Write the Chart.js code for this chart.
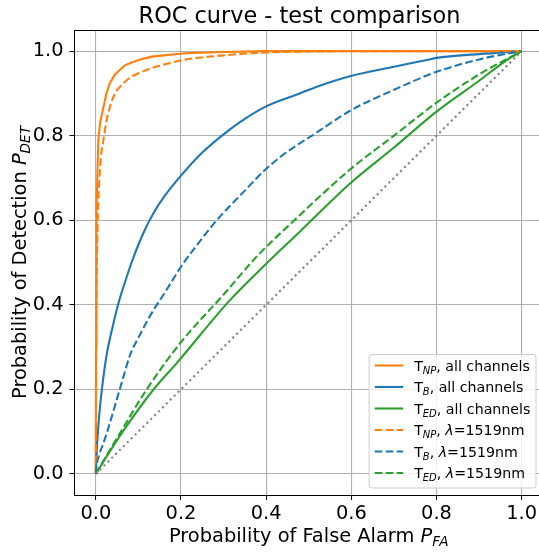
<!DOCTYPE html>
<html><head><meta charset="utf-8">
<script src="https://cdn.jsdelivr.net/npm/chart.js@4.4.1/dist/chart.umd.min.js"></script>
<style>
html,body{margin:0;padding:0;background:#fff;overflow:hidden;width:539px;height:552px}
#wrap{position:absolute;left:0;top:0;width:548px;height:552px}
</style>
</head><body><div id="wrap"><canvas id="c" width="548" height="552"></canvas></div>
<script>
const titleText = 'ROC curve - test comparison';
const xTicks = [0, 0.2, 0.4, 0.6, 0.8, 1.0];
const yTicks = [0, 0.2, 0.4, 0.6, 0.8, 1.0];

// T_NP, all channels
const npAllX = [0, 0, 0.0005, 0.001, 0.002, 0.004, 0.006, 0.01, 0.018, 0.025, 0.033, 0.045, 0.069, 0.1, 0.131, 0.209, 0.3, 0.4, 0.6, 0.8, 1.0];
const npAllY = [0, 0.05, 0.3, 0.5, 0.62, 0.72, 0.79, 0.83, 0.868, 0.9, 0.924, 0.945, 0.967, 0.979, 0.987, 0.995, 0.998, 1.0, 1.0, 1.0, 1.0];
// T_B, all channels
const bAllX = [0, 0.002, 0.005, 0.01, 0.018, 0.026, 0.04, 0.053, 0.07, 0.084, 0.1, 0.115, 0.135, 0.16, 0.198, 0.25, 0.315, 0.35, 0.401, 0.479, 0.519, 0.601, 0.7, 0.777, 0.8, 0.9, 1.0];
const bAllY = [0, 0.05, 0.1, 0.16, 0.23, 0.285, 0.35, 0.403, 0.458, 0.5, 0.542, 0.577, 0.616, 0.655, 0.703, 0.76, 0.815, 0.84, 0.87, 0.9, 0.916, 0.942, 0.963, 0.979, 0.984, 0.993, 1.0];
// T_ED, all channels
const edAllX = [0, 0.06, 0.135, 0.19, 0.315, 0.397, 0.479, 0.597, 0.7, 0.8, 0.9, 0.965, 1.0];
const edAllY = [0, 0.095, 0.199, 0.262, 0.411, 0.494, 0.573, 0.687, 0.772, 0.857, 0.93, 0.979, 1.0];
// T_NP, lambda=1519nm
const npLX = [0, 0.001, 0.002, 0.0045, 0.008, 0.012, 0.018, 0.025, 0.033, 0.045, 0.061, 0.08, 0.108, 0.14, 0.17, 0.209, 0.3, 0.4, 0.5, 0.7, 1.0];
const npLY = [0, 0.3, 0.45, 0.6, 0.69, 0.75, 0.79, 0.835, 0.868, 0.9, 0.92, 0.937, 0.951, 0.963, 0.971, 0.98, 0.99, 0.997, 0.999, 1.0, 1.0];
// T_B, lambda=1519nm
const bLX = [0, 0.002, 0.008, 0.018, 0.03, 0.049, 0.065, 0.08, 0.1, 0.127, 0.166, 0.2, 0.229, 0.284, 0.35, 0.393, 0.44, 0.479, 0.503, 0.597, 0.699, 0.8, 0.902, 0.95, 1.0];
const bLY = [0, 0.02, 0.045, 0.073, 0.11, 0.175, 0.23, 0.28, 0.322, 0.373, 0.435, 0.49, 0.53, 0.6, 0.67, 0.715, 0.755, 0.782, 0.797, 0.859, 0.908, 0.951, 0.981, 0.991, 1.0];
// T_ED, lambda=1519nm
const edLX = [0, 0.05, 0.119, 0.198, 0.299, 0.378, 0.479, 0.597, 0.7, 0.8, 0.9, 1.0];
const edLY = [0, 0.085, 0.199, 0.309, 0.423, 0.514, 0.612, 0.72, 0.8, 0.878, 0.945, 1.0];
// chance line
const diagX = [0, 1];
const diagY = [0, 1];

const legendLabels = [
  [{t:'T'},{t:'NP',it:1,sub:1},{t:', all channels'}],
  [{t:'T'},{t:'B',it:1,sub:1},{t:', all channels'}],
  [{t:'T'},{t:'ED',it:1,sub:1},{t:', all channels'}],
  [{t:'T'},{t:'NP',it:1,sub:1},{t:', '},{t:'λ',it:1},{t:'=1519nm'}],
  [{t:'T'},{t:'B',it:1,sub:1},{t:', '},{t:'λ',it:1},{t:'=1519nm'}],
  [{t:'T'},{t:'ED',it:1,sub:1},{t:', '},{t:'λ',it:1},{t:'=1519nm'}]
];
const xTitle = [{t:'Probability of False Alarm '},{t:'P',it:1},{t:'FA',it:1,sub:1}];
const yTitle = [{t:'Probability of Detection '},{t:'P',it:1},{t:'DET',it:1,sub:1}];

function pts(xs, ys){ return xs.map((x,i)=>({x:x, y:ys[i]})); }
const C_OR='#ff7f0e', C_BL='#1f77b4', C_GR='#2ca02c', C_GY='#808080';
const DASH=[7.7,3.3], DOT=[2.1,3.4];
const LW=2.1;

const specs = [
  {lab:0, d:pts(npAllX,npAllY), c:C_OR, dash:[], smooth:false},
  {lab:1, d:pts(bAllX,bAllY), c:C_BL, dash:[], smooth:true},
  {lab:2, d:pts(edAllX,edAllY), c:C_GR, dash:[], smooth:true},
  {lab:3, d:pts(npLX,npLY), c:C_OR, dash:DASH, smooth:true},
  {lab:4, d:pts(bLX,bLY), c:C_BL, dash:DASH, smooth:true},
  {lab:5, d:pts(edLX,edLY), c:C_GR, dash:DASH, smooth:true},
  {lab:-1, d:pts(diagX,diagY), c:C_GY, dash:DOT, smooth:false}
];
const datasets = specs.map((s,i)=>({
  label: s.lab>=0 ? legendLabels[s.lab].map(p=>p.t).join('') : 'chance',
  data: s.d, borderColor: s.c, backgroundColor: s.c, borderDash: s.dash,
  borderWidth: LW, showLine: true, pointRadius: 0, pointHoverRadius: 0,
  fill: false, tension: 0, order: -i, borderCapStyle: 'butt',
  cubicInterpolationMode: s.smooth ? 'monotone' : 'default'
}));

const FONT = '"DejaVu Sans", sans-serif';
function fontFor(p, size){ const s = p.sub ? size*0.7 : size; return (p.it?'italic ':'') + s + 'px ' + FONT; }
function richW(ctx, parts, size){ let w=0; for(const p of parts){ ctx.font=fontFor(p,size); w+=ctx.measureText(p.t).width; } return w; }
function richDraw(ctx, parts, x, y, size){
  for(const p of parts){ ctx.font=fontFor(p,size); ctx.fillText(p.t, x, y + (p.sub ? size*0.22 : 0)); x += ctx.measureText(p.t).width; }
}

const deco = {
  id: 'deco',
  afterDraw(chart){
    const ctx = chart.ctx, a = chart.chartArea;
    ctx.save();
    ctx.strokeStyle = '#000'; ctx.lineWidth = 1; ctx.setLineDash([]);
    ctx.beginPath();
    ctx.moveTo(a.left, a.top + 0.5); ctx.lineTo(a.right, a.top + 0.5);
    ctx.moveTo(a.right - 0.5, a.top); ctx.lineTo(a.right - 0.5, a.bottom);
    ctx.stroke();
    ctx.fillStyle = '#000'; ctx.textBaseline = 'alphabetic'; ctx.textAlign = 'left';
    ctx.font = '22.4px ' + FONT;
    const tw = ctx.measureText(titleText).width;
    ctx.fillText(titleText, 299.5 - tw/2, 22.5);
    const LS = 19.4;
    let w = richW(ctx, xTitle, LS);
    richDraw(ctx, xTitle, (a.left + a.right)/2 - w/2, 541.5, LS);
    w = richW(ctx, yTitle, LS);
    ctx.save();
    ctx.translate(26, (a.top + a.bottom)/2);
    ctx.rotate(-Math.PI/2);
    richDraw(ctx, yTitle, -w/2, 0, LS);
    ctx.restore();
    const FS = 14.2, pad = 5.6, hl = 28.5, htp = 11, rowH = 21.5;
    let maxW = 0;
    legendLabels.forEach(l => { maxW = Math.max(maxW, richW(ctx, l, FS)); });
    const bw = pad + hl + htp + maxW + pad;
    const bh = 133.5;
    const right = a.right - 7, bottom = a.bottom - 7;
    const left = right - bw, top = bottom - bh;
    const r = 3;
    ctx.beginPath();
    ctx.moveTo(left + r, top); ctx.lineTo(right - r, top); ctx.arcTo(right, top, right, top + r, r);
    ctx.lineTo(right, bottom - r); ctx.arcTo(right, bottom, right - r, bottom, r);
    ctx.lineTo(left + r, bottom); ctx.arcTo(left, bottom, left, bottom - r, r);
    ctx.lineTo(left, top + r); ctx.arcTo(left, top, left + r, top, r);
    ctx.closePath();
    ctx.fillStyle = 'rgba(255,255,255,0.8)'; ctx.fill();
    ctx.strokeStyle = '#cccccc'; ctx.lineWidth = 1; ctx.stroke();
    for (let i = 0; i < 6; i++) {
      const s = specs[i];
      const yc = top + 11 + i * rowH;
      ctx.strokeStyle = s.c; ctx.lineWidth = LW; ctx.setLineDash(s.dash);
      ctx.beginPath(); ctx.moveTo(left + pad, yc); ctx.lineTo(left + pad + hl, yc); ctx.stroke();
      ctx.setLineDash([]);
      ctx.fillStyle = '#000';
      richDraw(ctx, legendLabels[s.lab], left + pad + hl + htp, yc + 5, FS);
    }
    ctx.restore();
  }
};

const tickFont = {family: FONT, size: 19.4};
new Chart(document.getElementById('c'), {
  type: 'scatter',
  data: { datasets: datasets },
  options: {
    responsive: false, animation: false, devicePixelRatio: 1,
    layout: { padding: { left: 0, right: 5, top: 30, bottom: 0 } },
    plugins: { legend: { display: false }, title: { display: false }, tooltip: { enabled: false } },
    scales: {
      x: {
        type: 'linear', min: -0.05, max: 1.05,
        afterBuildTicks: s => { s.ticks = xTicks.map(v => ({value: v})); },
        afterFit: s => { s.height = 57; },
        ticks: { font: tickFont, color: '#000', padding: 2, maxRotation: 0, autoSkip: false,
                 callback: v => Number(v).toFixed(1) },
        grid: { color: '#b0b0b0', lineWidth: 1.1, drawTicks: true, tickLength: 5, tickColor: '#000', tickWidth: 1 },
        border: { display: true, color: '#000', width: 1 }
      },
      y: {
        type: 'linear', min: -0.05, max: 1.05,
        afterBuildTicks: s => { s.ticks = yTicks.map(v => ({value: v})); },
        afterFit: s => { s.width = 74.5; },
        ticks: { font: tickFont, color: '#000', padding: 6, autoSkip: false,
                 callback: v => Number(v).toFixed(1) },
        grid: { color: '#b0b0b0', lineWidth: 1.1, drawTicks: true, tickLength: 5, tickColor: '#000', tickWidth: 1 },
        border: { display: true, color: '#000', width: 1 }
      }
    }
  },
  plugins: [deco]
});
</script>
</body></html>
